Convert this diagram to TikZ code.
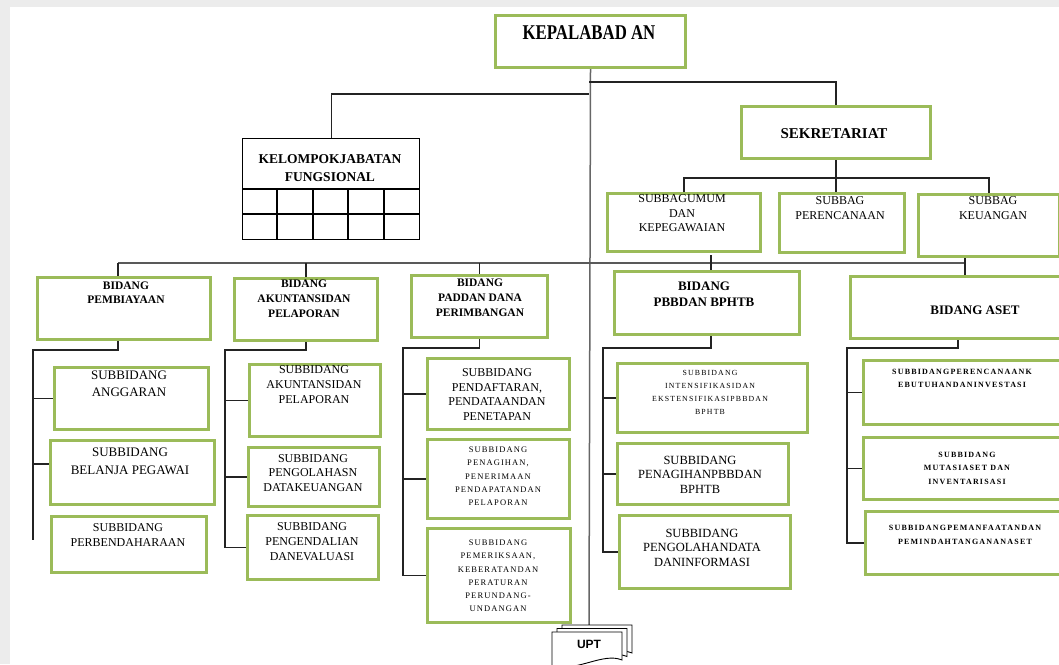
\documentclass[tikz,border=0pt]{standalone}
\usepackage{fontspec}
\usepackage{graphicx}
\setmainfont{Liberation Serif}
\newfontfamily\spacedfont[LetterSpace=13]{Liberation Serif}
\newfontfamily\wspacedfont[LetterSpace=15]{Liberation Serif}
\newfontfamily\uptfont{Liberation Sans}
\usetikzlibrary{backgrounds}
\definecolor{gr}{RGB}{155,187,89}
\definecolor{bgc}{RGB}{236,236,236}
\definecolor{lnc}{RGB}{35,35,35}
\tikzset{
 gb/.style={draw=gr, line width=3pt, fill=white, inner sep=0pt, anchor=north west},
 kb/.style={draw=black, line width=1.3pt, fill=white, inner sep=0pt, anchor=north west},
 conn/.style={draw=lnc, line width=1.3pt},
 trunk/.style={draw=black!60, line width=1.5pt},
 busline/.style={draw=black!65, line width=2.2pt},
 tx/.style={align=center, inner sep=0pt, text=black},
}
\newcommand{\bx}[6][gb]{\node[#1, minimum width={#5-#3}, minimum height={#6-#4}] (#2) at (#3,#4) {};}
\newcommand{\fs}[2]{\fontsize{#1}{#2}\selectfont}
\begin{document}
\begin{tikzpicture}[x=1pt,y=-1pt]
\useasboundingbox (0,0) rectangle (1059,664);
% ---------- boxes ----------
\bx{kepala}{494}{14}{684}{66}
\bx{sek}{740}{105}{929}{157}
\bx[kb]{kel}{242}{138}{419}{239}
\bx{umum}{606}{192}{759}{250}
\bx{per}{778}{192}{903}{251}
\bx{keu}{917}{193}{1058}{255}
\bx{pemb}{36}{276}{209}{338}
\bx{akun}{233}{277}{376}{339}
\bx{pad}{410}{274}{546}{336}
\bx{pbb}{613}{270}{798}{333}
\bx{aset}{849}{275}{1101}{337}
\bx{angg}{53}{366}{207}{428}
\bx{bel}{49}{439}{213}{503}
\bx{perb}{50}{515}{205}{571}
\bx{akus}{248}{363}{379}{435}
\bx{peng}{247}{446}{378}{505}
\bx{pengd}{246}{514}{377}{578}
\bx{pend}{426}{357}{568}{428}
\bx{penag}{426}{438}{568}{517}
\bx{pemer}{426}{527}{569}{621}
\bx{intens}{616}{362}{806}{431}
\bx{penpbb}{616}{442}{787}{503}
\bx{pengdata}{618}{514}{789}{587}
\bx{perenc}{862}{359}{1101}{423}
\bx{mut}{862}{436}{1101}{498}
\bx{peman}{864}{510}{1101}{573}
% grid of kelompok
\draw[line width=1.3pt] (kel.west |- 0,189) -- (kel.east |- 0,189);
\draw[line width=1.3pt] (kel.west |- 0,214) -- (kel.east |- 0,214);
\foreach \gx in {277,313,348,384}{\draw[line width=1.3pt] (\gx,189) -- (\gx,239);}
% ---------- texts ----------
\node[tx] (kepala-t) at (589,33) {\scalebox{0.8}[1]{\bfseries\fs{21}{21}KEPALABAD AN}};
\node[tx, font=\bfseries\fs{15}{15}] (sek-t) at (834,134) {SEKRETARIAT};
\node[tx, font=\bfseries\fs{13.5}{18}] (kel-t) at (330,168) {KELOMPOKJABATAN\\FUNGSIONAL};
\node[tx, font=\fs{12}{14.5}] (umum-t) at (682,213.5) {SUBBAGUMUM\\DAN\\KEPEGAWAIAN};
\node[tx, font=\fs{12}{14.5}] (per-t) at (840,208) {SUBBAG\\PERENCANAAN};
\node[tx, font=\fs{12}{14.5}] (keu-t) at (993,208) {SUBBAG\\KEUANGAN};
\node[tx, font=\bfseries\fs{11.5}{14}] (pemb-t) at (126,293) {BIDANG\\PEMBIAYAAN};
\node[tx, font=\bfseries\fs{11.5}{15}] (akun-t) at (304,299) {BIDANG\\AKUNTANSIDAN\\PELAPORAN};
\node[tx, font=\bfseries\fs{11.5}{15}] (pad-t) at (480,298) {BIDANG\\PADDAN DANA\\PERIMBANGAN};
\node[tx, font=\bfseries\fs{13}{16}] (pbb-t) at (704,294) {BIDANG\\PBBDAN BPHTB};
\node[tx, font=\bfseries\fs{13}{16}] (aset-t) at (975,310) {BIDANG ASET};
\node[tx, font=\fs{13}{17}] (angg-t) at (129,383.5) {SUBBIDANG\\ANGGARAN};
\node[tx, font=\fs{13}{18}] (bel-t) at (130,461) {SUBBIDANG\\BELANJA PEGAWAI};
\node[tx, font=\fs{12}{15}] (perb-t) at (128,535.5) {SUBBIDANG\\PERBENDAHARAAN};
\node[tx, font=\fs{12}{15}] (akus-t) at (314,385) {SUBBIDANG\\AKUNTANSIDAN\\PELAPORAN};
\node[tx, font=\fs{12}{14.5}] (peng-t) at (313,473) {SUBBIDANG\\PENGOLAHASN\\DATAKEUANGAN};
\node[tx, font=\fs{12}{15}] (pengd-t) at (312,542) {SUBBIDANG\\PENGENDALIAN\\DANEVALUASI};
\node[tx, font=\fs{12}{14.5}] (pend-t) at (497,394.5) {SUBBIDANG\\PENDAFTARAN,\\PENDATAANDAN\\PENETAPAN};
\node[tx, font=\spacedfont\fs{8.5}{13.3}] (penag-t) at (498,476.5) {SUBBIDANG\\PENAGIHAN,\\PENERIMAAN\\PENDAPATANDAN\\PELAPORAN};
\node[tx, font=\spacedfont\fs{8.5}{13.2}] (pemer-t) at (498,576) {SUBBIDANG\\PEMERIKSAAN,\\KEBERATANDAN\\PERATURAN\\PERUNDANG-\\UNDANGAN};
\node[tx, font=\wspacedfont\fs{7.8}{13}] (intens-t) at (710,392) {SUBBIDANG\\INTENSIFIKASIDAN\\EKSTENSIFIKASIPBBDAN\\BPHTB};
\node[tx, font=\fs{12.5}{14.5}] (penpbb-t) at (700,474.5) {SUBBIDANG\\PENAGIHANPBBDAN\\BPHTB};
\node[tx, font=\fs{12.5}{14.5}] (pengdata-t) at (702,547.5) {SUBBIDANG\\PENGOLAHANDATA\\DANINFORMASI};
\node[tx, font=\wspacedfont\bfseries\fs{8}{13}] (perenc-t) at (962,378.5) {SUBBIDANGPERENCANAANK\\EBUTUHANDANINVESTASI};
\node[tx, font=\wspacedfont\bfseries\fs{8}{13.5}] (mut-t) at (967,468) {SUBBIDANG\\MUTASIASET DAN\\INVENTARISASI};
\node[tx, font=\wspacedfont\bfseries\fs{8}{14}] (peman-t) at (965,535) {SUBBIDANGPEMANFAATANDAN\\PEMINDAHTANGANANASET};
% ---------- UPT stack ----------
\foreach \k in {2,1,0}{
  \begin{scope}[shift={(5*\k,-3.5*\k)}]
    \draw[fill=white, line width=0.9pt] (552,632) -- (622,632) -- (622,660)
      .. controls (603,652) and (578,672) .. (552,666) -- cycle;
  \end{scope}
}
\node[tx, font=\uptfont\bfseries\fs{12}{12}] (upt) at (589,644) {UPT};
% ---------- background + connectors ----------
\begin{scope}[on background layer]
\fill[bgc] (0,0) rectangle (1059,664);
\fill[white] (10,7) rectangle (1059,664);
\coordinate (uptTop) at (589,625);
\coordinate (j1) at (589,82);
\coordinate (j2) at (589,94);
\draw[trunk] (kepala.south) -- (uptTop);
\draw[conn] (j1) -| (sek.north);
\draw[conn] (j2) -| (kel.north);
\draw[conn] (sek.south) -- (sek.south |- per.north);
\draw[conn] (umum.north) -- ++(0,-14) -| (keu.north);
% bus
\coordinate (busL) at (118,263);
\coordinate (busR) at (965,263);
\draw[busline] (busL) -- (busR);
\draw[conn] (busL) -- (busL |- pemb.north);
\draw[conn] (akun.north |- busL) -- (akun.north);
\draw[conn] (pad.north |- busL) -- (pad.north);
\coordinate (pdrop) at (711,255);
\draw[conn] (pdrop) -- (pdrop |- pbb.north);
\coordinate (adrop) at (965,256);
\draw[conn] (adrop) -- (adrop |- aset.north);
% pembiayaan subs
\coordinate (e1) at (33,350);
\coordinate (e1b) at (33,540);
\coordinate (t1) at (33,464);
\draw[conn] (busL |- pemb.south) |- (e1) -- (e1b);
\draw[conn] (angg.west) -- (angg.west -| e1);
\draw[conn] (t1) -- (t1 -| bel.west);
% akuntansi subs
\coordinate (e2) at (225,350);
\draw[conn] (akun.south) |- (e2) |- (pengd.west);
\draw[conn] (akus.west) -- (akus.west -| e2);
\draw[conn] (peng.west) -- (peng.west -| e2);
% pad subs
\coordinate (e3) at (403,348);
\draw[conn] (pad.south) |- (e3) |- (pemer.west);
\draw[conn] (pend.west) -- (pend.west -| e3);
\draw[conn] (penag.west) -- (penag.west -| e3);
% pbb subs
\coordinate (e4) at (603,348);
\draw[conn] (pdrop |- pbb.south) |- (e4) |- (pengdata.west);
\draw[conn] (intens.west) -- (intens.west -| e4);
\draw[conn] (penpbb.west) -- (penpbb.west -| e4);
% aset subs
\coordinate (e5) at (847,348);
\coordinate (adrop2) at (958,337);
\draw[conn] (adrop2) |- (e5) |- (peman.west);
\draw[conn] (perenc.west) -- (perenc.west -| e5);
\draw[conn] (mut.west) -- (mut.west -| e5);
\end{scope}
\end{tikzpicture}
\end{document}
